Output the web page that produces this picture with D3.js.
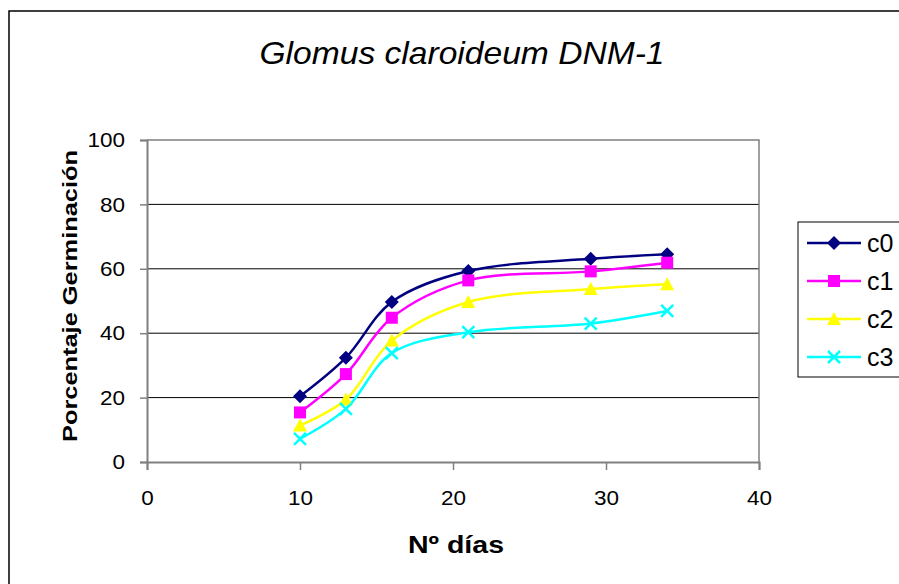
<!DOCTYPE html>
<html>
<head>
<meta charset="utf-8">
<script src="https://cdn.jsdelivr.net/npm/d3@7"></script>
<style>
  body { margin: 0; background: white; }
  svg text { font-family: "Liberation Sans", Arial, sans-serif; }
</style>
</head>
<body>
<svg id="chart" width="899" height="584"></svg>
<script>
const days = [10, 13, 16, 21, 29, 34]
const c0 = [20.4, 32.4, 49.7, 59.3, 63.1, 64.5]
const c1 = [15.4, 27.3, 44.8, 56.4, 59.2, 61.9]
const c2 = [11.3, 19.4, 37.7, 49.7, 53.7, 55.2]
const c3 = [7.2, 16.5, 33.8, 40.3, 43.0, 46.9]
const seriesNames = ['c0', 'c1', 'c2', 'c3']
const seriesColors = ['#000080', '#FF00FF', '#FFFF00', '#00FFFF']
const xTicks = [0, 10, 20, 30, 40]
const yTicks = [0, 20, 40, 60, 80, 100]

const allSeries = [c0, c1, c2, c3]

const svg = d3.select('#chart')

// chart area border
svg.append('rect')
  .attr('x', 9).attr('y', 11)
  .attr('width', 1000).attr('height', 1000)
  .attr('fill', 'white')
  .attr('stroke', 'black')
  .attr('stroke-width', 1.5)

const plotLeft = 147, plotRight = 759, plotTop = 140, plotBottom = 462

const x = d3.scaleLinear().domain([0, 40]).range([plotLeft, plotRight])
const y = d3.scaleLinear().domain([0, 100]).range([plotBottom, plotTop])

// gridlines
svg.append('g')
  .selectAll('line')
  .data(yTicks.filter(d => d > 0 && d < 100))
  .enter()
  .append('line')
    .attr('x1', plotLeft).attr('x2', plotRight)
    .attr('y1', d => y(d)).attr('y2', d => y(d))
    .attr('stroke', 'black')
    .attr('stroke-width', 1)

// plot area border (top/right)
svg.append('path')
  .attr('d', `M${plotLeft},${plotTop}H${plotRight}V${plotBottom}`)
  .attr('fill', 'none')
  .attr('stroke', '#808080')
  .attr('stroke-width', 1.5)

// axes
const yAxis = svg.append('g')
  .attr('transform', `translate(${plotLeft},0)`)
  .call(d3.axisLeft(y).tickValues(yTicks).tickSize(7).tickPadding(15))
const xAxis = svg.append('g')
  .attr('transform', `translate(0,${plotBottom})`)
  .call(d3.axisBottom(x).tickValues(xTicks).tickSize(8).tickPadding(20))

for (const ax of [xAxis, yAxis]) {
  ax.select('.domain').attr('stroke', '#808080').attr('stroke-width', 2)
  ax.selectAll('.tick line').attr('stroke', '#808080').attr('stroke-width', 1.5)
  ax.selectAll('.tick text')
    .style('font-size', '21px')
    .style('font-family', '"Liberation Sans", Arial, sans-serif')
    .attr('textLength', d => String(d).length * 12.5)
    .attr('lengthAdjust', 'spacingAndGlyphs')
    .attr('fill', 'black')
}

// series lines
const line = d3.line()
  .x((d, i) => x(days[i]))
  .y(d => y(d))
  .curve(d3.curveCatmullRom.alpha(0.5))

allSeries.forEach(function (s, k) {
  svg.append('path')
    .datum(s)
    .attr('d', line)
    .attr('fill', 'none')
    .attr('stroke', seriesColors[k])
    .attr('stroke-width', 2.5)
})

function drawMarker(g, k, cx, cy) {
  const col = seriesColors[k]
  if (k === 0) {
    g.append('path')
      .attr('d', `M${cx},${cy - 7}L${cx + 7},${cy}L${cx},${cy + 7}L${cx - 7},${cy}Z`)
      .attr('fill', col)
  } else if (k === 1) {
    g.append('rect')
      .attr('x', cx - 6).attr('y', cy - 6)
      .attr('width', 12).attr('height', 12)
      .attr('fill', col)
  } else if (k === 2) {
    g.append('path')
      .attr('d', `M${cx},${cy - 7}L${cx + 7},${cy + 6}L${cx - 7},${cy + 6}Z`)
      .attr('fill', col)
  } else {
    g.append('path')
      .attr('d', `M${cx - 6},${cy - 6}L${cx + 6},${cy + 6}M${cx + 6},${cy - 6}L${cx - 6},${cy + 6}`)
      .attr('stroke', col)
      .attr('stroke-width', 2.5)
  }
}

const markers = svg.append('g')
allSeries.forEach(function (s, k) {
  s.forEach(function (v, i) {
    drawMarker(markers, k, x(days[i]), y(v))
  })
})

// title
svg.append('text')
  .attr('x', 462).attr('y', 64)
  .attr('text-anchor', 'middle')
  .attr('textLength', 405)
  .attr('lengthAdjust', 'spacingAndGlyphs')
  .style('font-size', '32px')
  .style('font-style', 'italic')
  .text('Glomus claroideum DNM-1')

svg.append('text')
  .attr('x', 456).attr('y', 553)
  .attr('text-anchor', 'middle')
  .attr('textLength', 96)
  .attr('lengthAdjust', 'spacingAndGlyphs')
  .style('font-size', '24px')
  .style('font-weight', 'bold')
  .text('Nº días')

svg.append('text')
  .attr('transform', 'translate(77,296) rotate(-90)')
  .attr('text-anchor', 'middle')
  .attr('textLength', 292)
  .attr('lengthAdjust', 'spacingAndGlyphs')
  .style('font-size', '21px')
  .style('font-weight', 'bold')
  .text('Porcentaje Germinación')

// legend
const legend = svg.append('g')
legend.append('rect')
  .attr('x', 798).attr('y', 222)
  .attr('width', 120).attr('height', 155)
  .attr('fill', 'white')
  .attr('stroke', 'black')
  .attr('stroke-width', 1)

seriesNames.forEach(function (name, k) {
  const ly = 243 + k * 38
  legend.append('line')
    .attr('x1', 807).attr('x2', 861)
    .attr('y1', ly).attr('y2', ly)
    .attr('stroke', seriesColors[k])
    .attr('stroke-width', 2.5)
  drawMarker(legend, k, 834, ly)
  legend.append('text')
    .attr('x', 867).attr('y', ly + 9)
    .style('font-size', '25px')
    .text(name)
})
</script>
</body>
</html>
